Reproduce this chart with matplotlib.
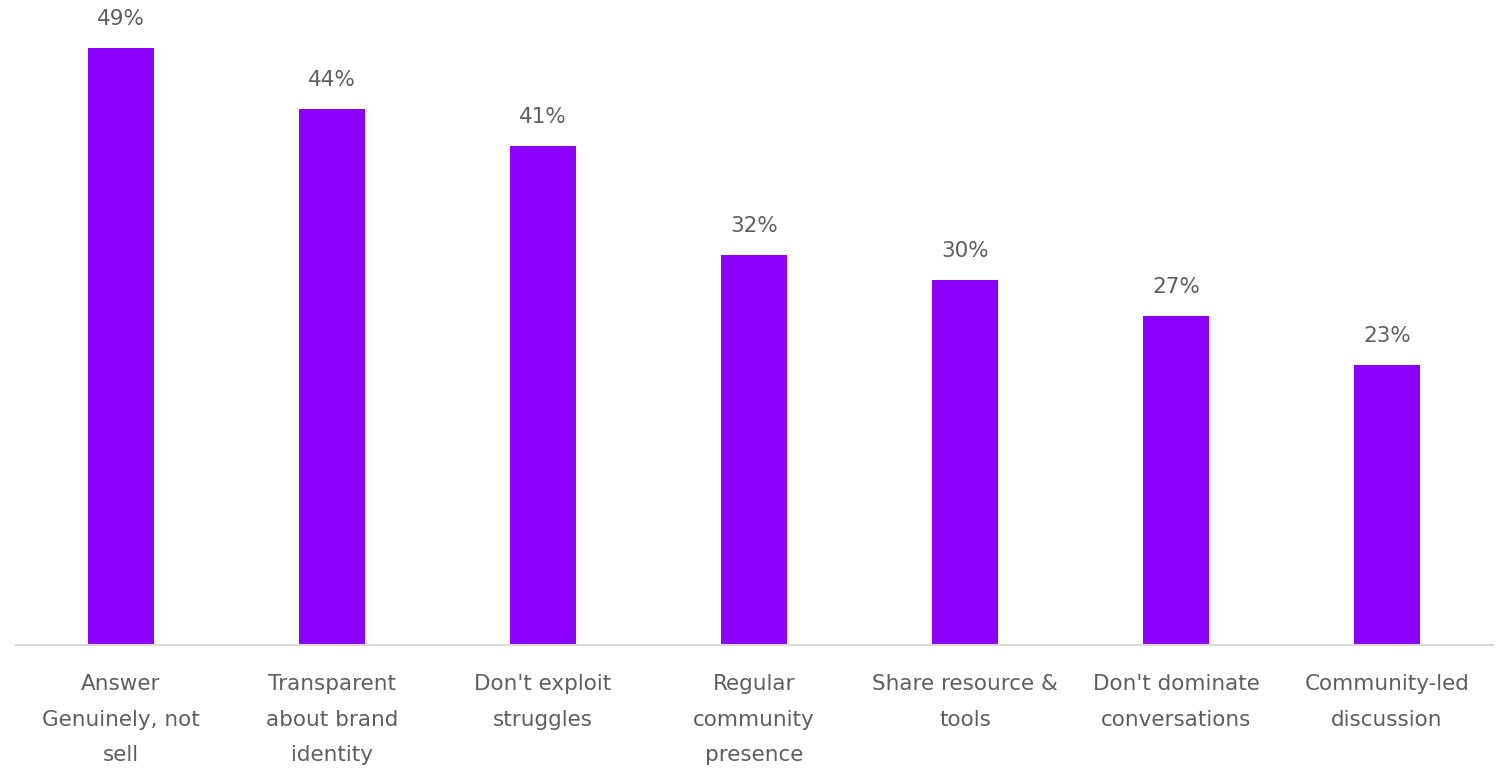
import numpy as np
import matplotlib.pyplot as plt

# survey results, share of respondents (%)
categories = ["Answer\nGenuinely, not\nsell", "Transparent\nabout brand\nidentity",
              "Don't exploit\nstruggles", "Regular\ncommunity\npresence",
              "Share resource &\ntools", "Don't dominate\nconversations",
              "Community-led\ndiscussion"]
values = [49, 44, 41, 32, 30, 27, 23]

bar_color = "#8B00FF"
text_color = "#5E5E5E"

plt.rcParams['font.family'] = ['DejaVu Sans']

fig = plt.figure(figsize=(14.99, 7.68), dpi=100)
ax = fig.add_axes([15.5 / 1499, 123 / 768, 1477 / 1499, 633.4 / 768])

x = np.arange(len(values))
bars = ax.bar(x, values, width=0.31, color=bar_color)

for rect, v in zip(bars, values):
    ax.annotate(f"{v}%", (rect.get_x() + rect.get_width() / 2, v),
                xytext=(0, 19), textcoords="offset pixels",
                ha="center", va="bottom", fontsize=15.5, color=text_color)

ax.set_xlim(-0.5, len(values) - 0.5)
ax.set_ylim(0, 52)
ax.set_xticks(x)
ax.set_xticklabels(categories, fontsize=15.5, color=text_color, linespacing=1.97)
ax.tick_params(axis="x", length=0, pad=21)
ax.set_yticks([])

for side in ["top", "left", "right"]:
    ax.spines[side].set_visible(False)
ax.spines["bottom"].set_color("#D9D9D9")
ax.spines["bottom"].set_linewidth(1.5)

fig.savefig("out.png", dpi=100)
